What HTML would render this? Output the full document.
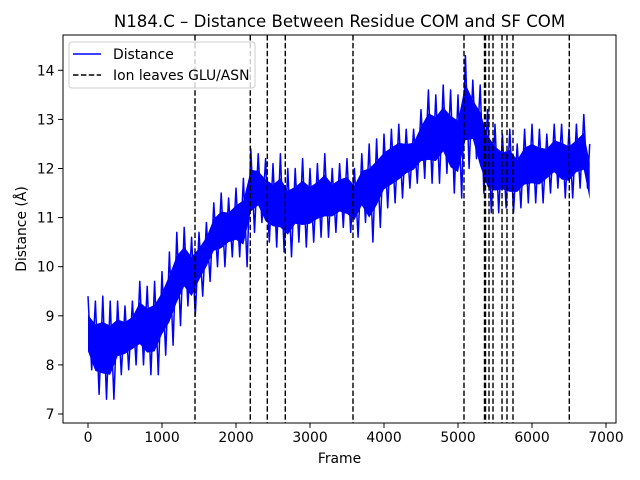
<!DOCTYPE html>
<html><head><meta charset="utf-8"><style>
body{margin:0;background:#fff;}
svg{display:block;font-family:"DejaVu Sans","Liberation Sans",sans-serif;}
</style></head><body>
<svg id="chart" width="640" height="480" viewBox="0 0 640 480" xmlns="http://www.w3.org/2000/svg">
<rect width="640" height="480" fill="#fff"/>
<text x="339.5" y="27" font-size="16.6" text-anchor="middle">N184.C – Distance Between Residue COM and SF COM</text>
<g id="plot"></g>
<text x="339.5" y="463" font-size="13.9" text-anchor="middle">Frame</text>
<text transform="translate(26,229) rotate(-90)" font-size="13.9" text-anchor="middle">Distance (Å)</text>
</svg>
<script>
const frames=[0,100,200,300,400,500,600,700,800,900,1000,1100,1200,1300,1400,1500,1600,1700,1800,1900,2000,2100,2200,2300,2400,2500,2600,2700,2800,2900,3000,3100,3200,3300,3400,3500,3600,3700,3800,3900,4000,4100,4200,4300,4400,4500,4600,4700,4800,4900,5000,5100,5200,5300,5400,5500,5600,5700,5800,5900,6000,6100,6200,6300,6400,6500,6600,6700,6780];
const hiVals=[9.4,9.3,9.4,9.3,9.3,9.2,9.3,9.7,9.6,9.7,9.9,10.3,10.7,10.8,10.6,10.7,10.9,11.3,11.5,11.4,11.6,11.8,12.4,12.3,12.2,12.1,12.3,12.0,12.0,12.2,12.0,12.1,12.3,12.0,12.1,12.2,12.0,12.3,12.5,12.6,12.7,12.8,12.9,12.8,12.8,13.2,13.6,13.5,13.7,13.6,13.5,14.3,13.8,13.7,13.2,12.9,12.7,12.8,12.5,12.8,12.9,12.8,12.7,12.9,12.9,12.8,12.9,13.1,12.5];
const loVals=[7.9,7.4,7.3,7.3,7.8,7.9,8.0,8.0,7.8,7.8,8.2,8.4,8.8,9.2,9.0,9.4,9.7,10.0,10.0,10.2,10.2,10.0,10.7,10.9,10.5,10.4,10.3,10.2,10.5,10.4,10.5,10.6,10.6,10.7,10.8,10.7,10.6,10.9,10.5,10.8,11.2,11.3,11.4,11.6,11.7,11.8,11.7,11.7,11.9,11.5,11.4,12.0,12.2,11.5,11.1,11.1,11.2,11.1,11.2,11.3,11.3,11.3,11.5,11.6,11.4,11.4,11.6,11.6,11.0];
const eventFrames=[1446,2193,2423,2666,3581,5081,5358,5372,5419,5473,5595,5662,5743,6504];
const xTicks=[0,1000,2000,3000,4000,5000,6000,7000];
const yTicks=[7,8,9,10,11,12,13,14];

const NS="http://www.w3.org/2000/svg";
const L=63,R=616,T=35,B=423;
const xs=f=>88+f*0.074;
const ys=v=>414-(v-7)*49.1;
const g=document.getElementById('plot');
function mk(t,a){const e=document.createElementNS(NS,t);for(const k in a)e.setAttribute(k,a[k]);g.appendChild(e);return e;}

const bandTop=frames.map((f,i)=>xs(f)+','+ys(hiVals[i]-(hiVals[i]-loVals[i])*0.25)).join(' ');
const bandBot=frames.map((f,i)=>xs(f)+','+ys(loVals[i]+(hiVals[i]-loVals[i])*0.25)).reverse().join(' ');
const band=mk('polygon',{points:bandTop+' '+bandBot,fill:'#0000ff'});


const pts=[];
frames.forEach((f,i)=>{pts.push(xs(f)+','+ys(hiVals[i]));if(i<frames.length-1)pts.push(xs(f+50)+','+ys(loVals[i]));});
const line=mk('polyline',{points:pts.join(' '),fill:'none',stroke:'#0000ff','stroke-width':1.5,'stroke-linejoin':'round'});


eventFrames.forEach(f=>{
  const l=mk('line',{x1:xs(f),x2:xs(f),y1:T,y2:B,stroke:'#000','stroke-width':1.4,'stroke-dasharray':'5.5,2.4'});
  
  
});
const fr=mk('rect',{x:L,y:T,width:R-L,height:B-T,fill:'none',stroke:'#000','stroke-width':1});


xTicks.forEach(t=>{
  const x=xs(t);
  const tk=mk('line',{x1:x,x2:x,y1:B,y2:B+4.9,stroke:'#000'});
  
  
  const tx=mk('text',{x:x,y:B+19,'font-size':13.9,'text-anchor':'middle'});tx.textContent=t;
  
  
});
yTicks.forEach(t=>{
  const y=ys(t);
  const tk=mk('line',{x1:L-4.9,x2:L,y1:y,y2:y,stroke:'#000'});
  
  
  const tx=mk('text',{x:L-8.5,y:y+5,'font-size':13.9,'text-anchor':'end'});tx.textContent=t;
  
  
});
const lg=mk('rect',{x:69,y:42,width:186,height:46,rx:3,fill:'#fff','fill-opacity':0.8,stroke:'#ccc'});


const l1=mk('line',{x1:73,x2:101,y1:54,y2:54,stroke:'#0000ff','stroke-width':1.5});


const t1=mk('text',{x:113,y:59,'font-size':13.9});t1.textContent='Distance';


const l2=mk('line',{x1:73,x2:101,y1:75,y2:75,stroke:'#000','stroke-width':1.4,'stroke-dasharray':'5.5,2.4'});


const t2=mk('text',{x:113,y:80,'font-size':13.9});t2.textContent='Ion leaves GLU/ASN';


</script>
</body></html>
